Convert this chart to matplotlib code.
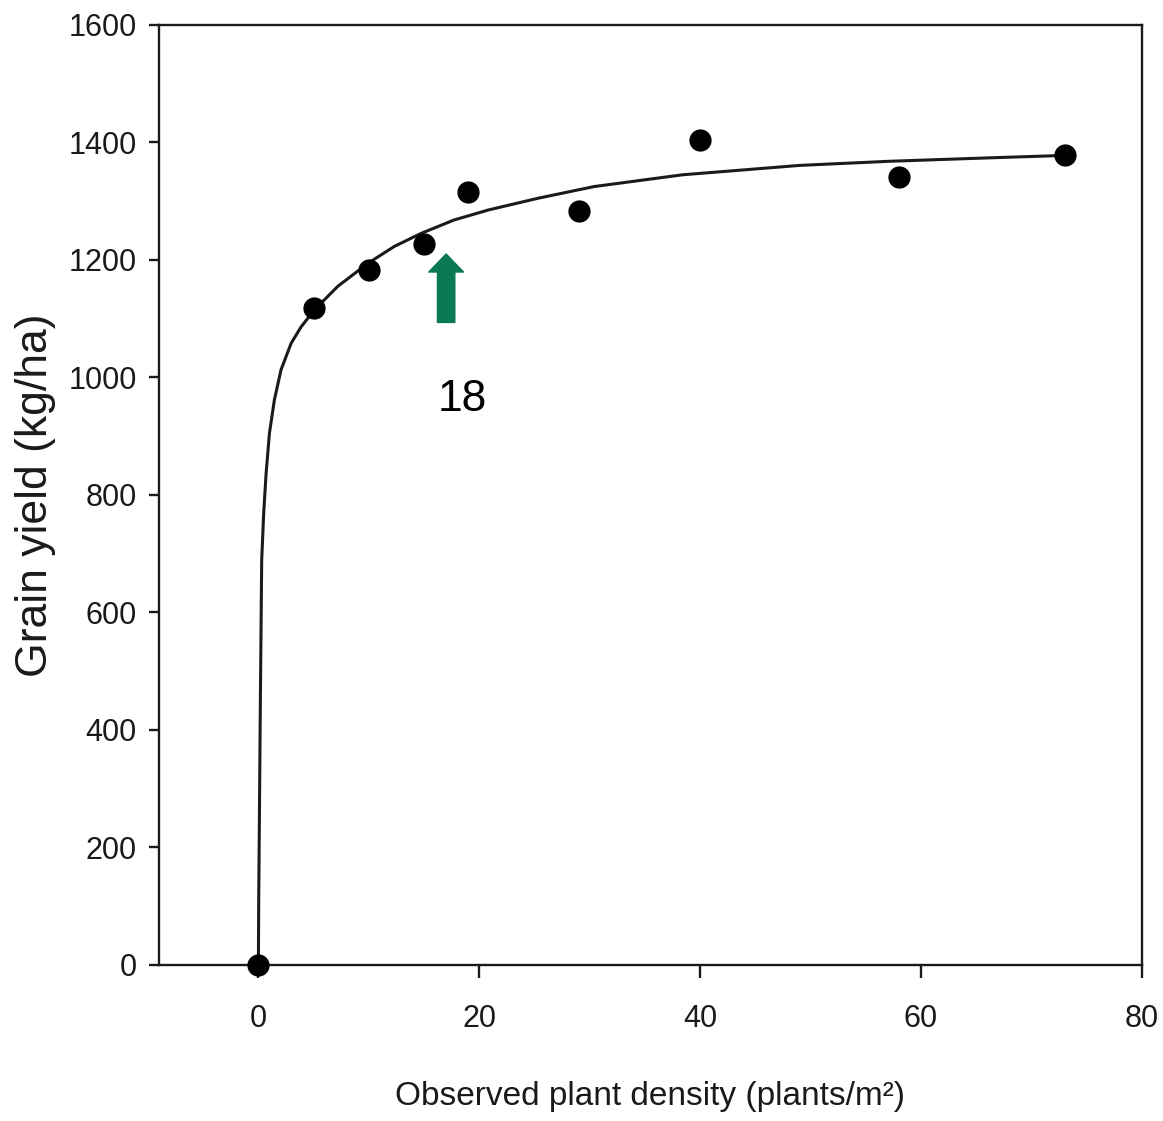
import numpy as np
import matplotlib
matplotlib.use('Agg')
from matplotlib import pyplot as plt
from matplotlib.patches import FancyArrowPatch

# observed points
density = [0, 5, 10, 15, 19, 29, 40, 58, 73]
grain_yield = [0, 1118, 1183, 1227, 1316, 1283, 1404, 1341, 1379]

# fitted curve
curve_x = [0, 0.03, 0.18, 0.30, 0.48, 0.70, 1.0, 1.45, 2.05, 2.96, 3.86, 5.07,
           7.18, 9.89, 12.3, 14.7, 17.7, 20.8, 25.3, 30.4, 38.4, 49.0, 57.1,
           66.4, 73]
curve_y = [0, 111, 451, 689, 769, 837, 905, 962, 1013, 1058, 1086, 1115,
           1155, 1194, 1223, 1245, 1268, 1285, 1305, 1325, 1345, 1361, 1368,
           1374, 1378]

xticks = [0, 20, 40, 60, 80]
yticks = [0, 200, 400, 600, 800, 1000, 1200, 1400, 1600]

plt.rcParams['font.family'] = ['Liberation Sans', 'DejaVu Sans']

fig = plt.figure(figsize=(11.63, 11.21), dpi=100)
ax = fig.add_axes([0.1367, 0.1392, 0.8452, 0.8385])

ax.plot(curve_x, curve_y, color='#1a1a1a', lw=2.2, zorder=2,
        solid_joinstyle='round', solid_capstyle='round')
ax.plot(density, grain_yield, 'o', color='black', ms=15, zorder=3, clip_on=False)

ax.set_xlim(-9, 80)
ax.set_ylim(0, 1600)
ax.set_xticks(xticks)
ax.set_yticks(yticks)
for s in ax.spines.values():
    s.set_linewidth(1.7)
    s.set_color('#1a1a1a')
ax.tick_params(axis='y', direction='out', length=7, width=1.7, pad=9,
               labelsize=22, colors='#1a1a1a')
ax.tick_params(axis='x', direction='out', length=9, width=1.7, pad=19,
               labelsize=22, colors='#1a1a1a')

ax.set_xlabel('Observed plant density (plants/m²)', fontsize=24, color='#1a1a1a')
ax.xaxis.set_label_coords(0.5, -0.140)
ax.xaxis.label.set_va('center')
ax.set_ylabel('Grain yield (kg/ha)', fontsize=32, color='#1a1a1a')
ax.yaxis.set_label_coords(-0.126, 0.5)
ax.yaxis.label.set_va('center')

# green arrow and label
arr = FancyArrowPatch((17.0, 1089), (17.0, 1215),
                      arrowstyle='simple,head_length=13,head_width=25,tail_width=12.5',
                      mutation_scale=1, color='#0b7a52', zorder=4)
ax.add_patch(arr)
ax.text(18.5, 963, '18', fontsize=32, ha='center', va='center', color='black')

fig.savefig('out.png', dpi=100)
